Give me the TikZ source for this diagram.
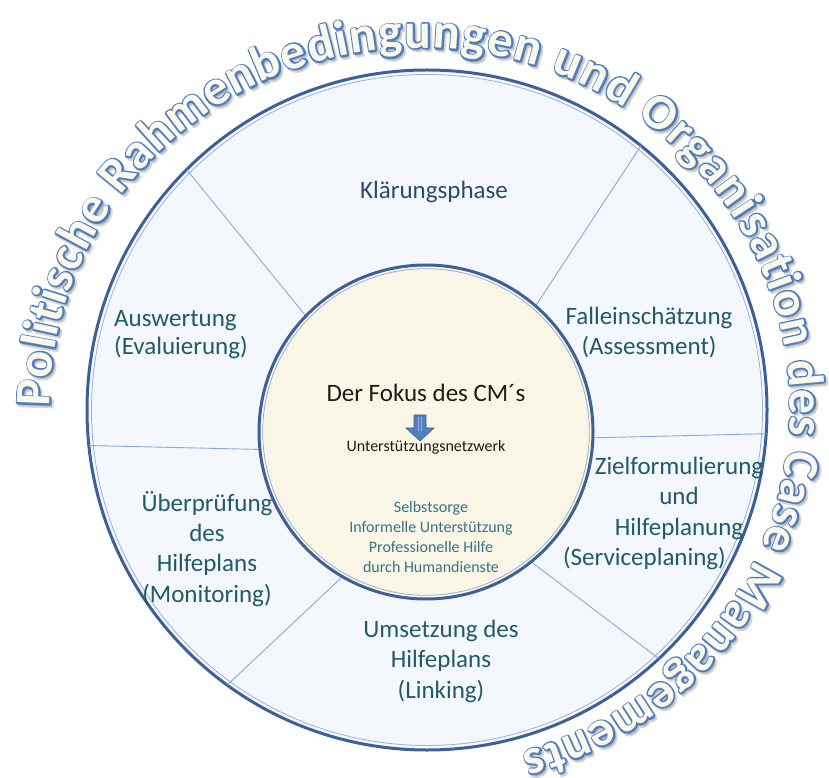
\documentclass[tikz,border=0pt]{standalone}
\usepackage{fontspec}
\setmainfont{Carlito}
\usetikzlibrary{decorations.text}
\definecolor{ringfill}{HTML}{F4F7FC}
\definecolor{innerfill}{HTML}{F9F6E7}
\definecolor{circdark}{HTML}{3D6197}
\definecolor{circlight}{HTML}{9AB0D6}
\definecolor{spokecol}{HTML}{8AA8DA}
\definecolor{labelteal}{HTML}{215A69}
\definecolor{labelslate}{HTML}{2D4A6C}
\definecolor{fokusblack}{HTML}{1E1C17}
\definecolor{listteal}{HTML}{3A7381}
\definecolor{curvefill}{HTML}{FBF9EC}
\definecolor{curveline}{HTML}{4F7EBD}
\definecolor{shadowgray}{HTML}{7A7A7A}
\definecolor{arrowfill}{HTML}{4F81BD}
\definecolor{arrowdraw}{HTML}{3A6396}
\protected\def\curvefmt{\fontsize{50}{60}\selectfont\bfseries\color{curvefill}}
\protected\def\outlinefmt{\fontsize{50}{60}\selectfont\bfseries\color{curveline}\special{pdf:literal direct 0.31 0.49 0.74 RG 3.2 w 1 j 2 Tr}}
\protected\def\shadowfmt{\fontsize{50}{60}\selectfont\bfseries\color{shadowgray}\special{pdf:literal direct 0.48 0.48 0.48 RG 3.5 w 1 j 2 Tr}}
\newcommand\curvetitle{Politische Rahmenbedingungen und Organisation des Case Managements}
\begin{document}
\begin{tikzpicture}[x=1pt,y=1pt,
  ringcircle/.style={circle, inner sep=0pt, outer sep=0pt, draw=circdark, line width=3pt},
  spoke/.style={draw=spokecol, line width=0.9pt},
  ringlabel/.style={font=\fontsize{25}{30.3}\selectfont, text=labelteal, inner sep=0pt, align=center},
  listlabel/.style={font=\fontsize{16}{20}\selectfont, text=listteal, inner sep=0pt, align=center},
  titlepath/.style={decorate, decoration={text along path, text align={fit to path}, text={|#1|Politische Rahmenbedingungen und Organisation des Case Managements}}}]
\useasboundingbox (0,0) rectangle (829,777);
% outer ring
\node[ringcircle, fill=ringfill, minimum size=680pt] (outer) at (427,367) {};
\draw[circlight, line width=0.8pt] (outer.center) circle[radius=335.5];
% spokes
\node[circle, inner sep=0pt, outer sep=0pt, minimum size=334pt] (innerref) at (426,345) {};
\draw[spoke] (innerref.136) -- (outer.135);
\draw[spoke] (innerref.49.3) -- (outer.51.9);
\draw[spoke] (innerref.-2) -- (outer.-4.7);
\draw[spoke] (innerref.-51.8) -- (outer.-47.3);
\draw[spoke] (innerref.240.8) -- (outer.234.6);
\draw[spoke] (innerref.186.5) -- (outer.186.9);
% inner circle
\node[ringcircle, fill=innerfill, minimum size=334pt] (inner) at (426,345) {};
\draw[circlight, line width=0.8pt] (inner.center) circle[radius=163.3];
% ring labels (anchor = baseline of last line)
\node[ringlabel, text=labelslate, anchor=base] (klaer) at (434,578) {Klärungsphase};
\node[ringlabel, align=left, anchor=base west, font=\fontsize{25}{28}\selectfont] (ausw) at (114,422) {Auswertung\\(Evaluierung)};
\node[ringlabel, anchor=base] (fall) at (649,422) {Falleinschätzung\\(Assessment)};
\node[ringlabel, anchor=base] (ziel) at (679,242) {Zielformulierung\\und\\Hilfeplanung};
\node[ringlabel, anchor=base] (service) at (644.5,212) {(Serviceplaning)};
\node[ringlabel, anchor=base] (ueber) at (207,175) {Überprüfung\\des\\Hilfeplans\\(Monitoring)};
\node[ringlabel, anchor=base] (umsetz) at (441,79) {Umsetzung des\\Hilfeplans\\(Linking)};
% centre
\node[font=\fontsize{25}{30}\selectfont, text=fokusblack, inner sep=0pt, anchor=base] (fokus) at (426,375) {Der Fokus des CM´s};
\draw[fill=arrowfill, draw=arrowdraw, line width=0.6pt, line join=miter]
  (414,362) -- (426,362) -- (426,349) -- (434,349) -- (420,336) -- (406,349) -- (414,349) -- cycle;
\draw[circlight, line width=0.5pt] (418.5,360) -- (418.5,346) (421.5,360) -- (421.5,346);
\node[font=\fontsize{16}{20}\selectfont, text=fokusblack, inner sep=0pt, anchor=base] (netz) at (426,326) {Unterstützungsnetzwerk};
\node[listlabel, anchor=base] (liste) at (431,205) {Selbstsorge\\Informelle Unterstützung\\Professionelle Hilfe\\durch Humandienste};
% curved title: shadow, outline, fill
\begin{scope}[opacity=0.3, shift={(2,-2.5)}]
\path[titlepath=\shadowfmt] (50,370) arc[start angle=180, end angle=-74, x radius=370, y radius=359];
\end{scope}
\begin{scope}
\path[titlepath=\outlinefmt] (50,370) arc[start angle=180, end angle=-74, x radius=370, y radius=359];
\end{scope}
\begin{scope}
\path[titlepath=\curvefmt] (50,370) arc[start angle=180, end angle=-74, x radius=370, y radius=359];
\end{scope}
\end{tikzpicture}
\end{document}
